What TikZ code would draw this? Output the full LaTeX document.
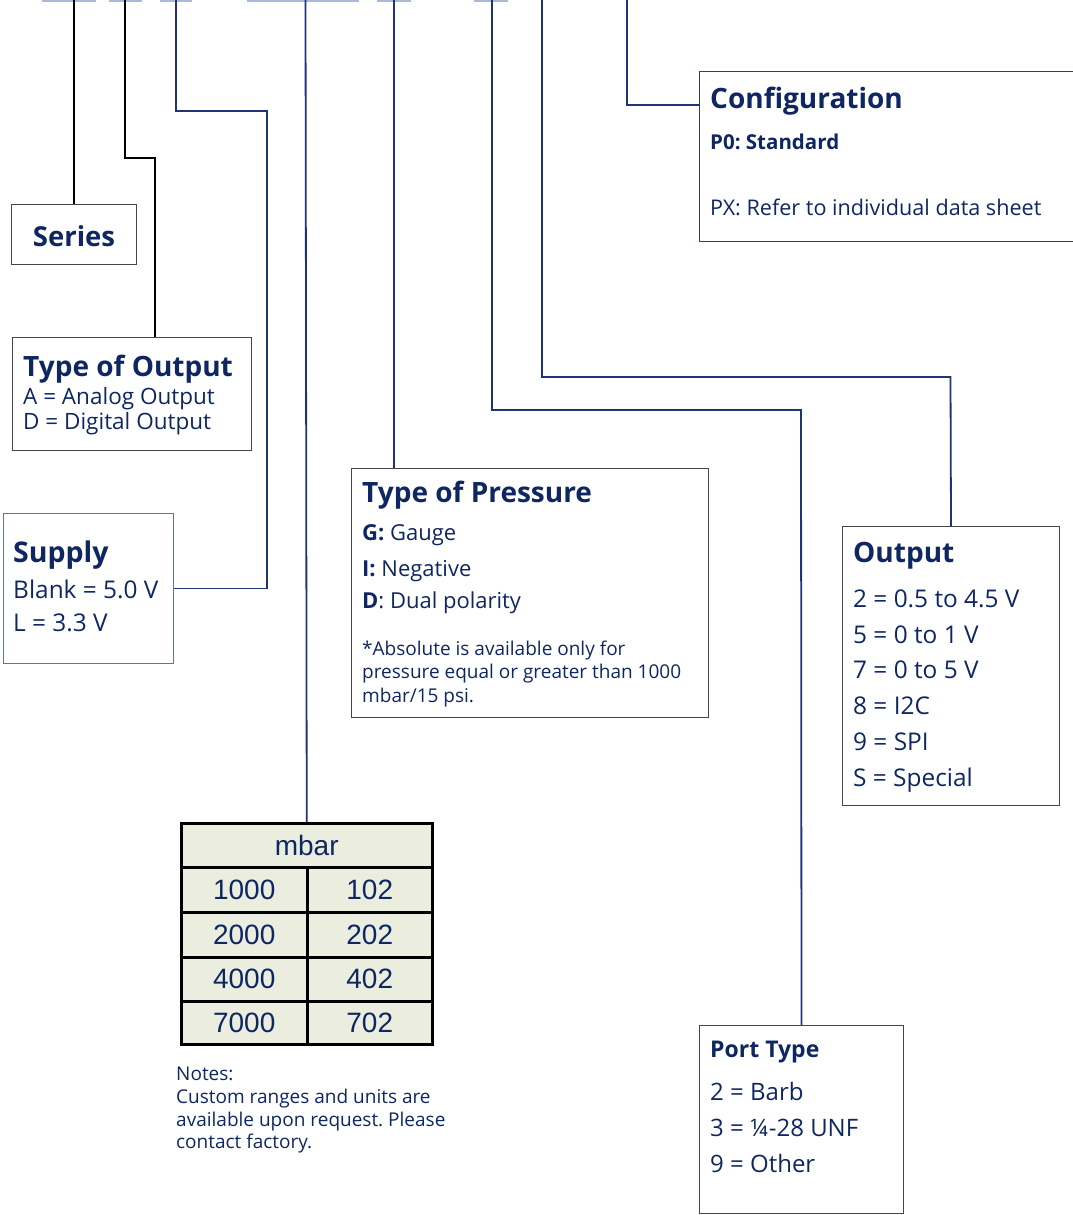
\documentclass[tikz,border=0pt]{standalone}
\usepackage{fontspec}
\setmainfont{Open Sans}
\newfontfamily\tabfont{Liberation Sans}
\frenchspacing
\definecolor{navy}{RGB}{14,38,98}
\definecolor{lnavy}{RGB}{30,52,118}
\definecolor{ulblue}{RGB}{170,185,215}
\definecolor{gborder}{RGB}{70,70,70}
\definecolor{sborder}{RGB}{95,115,165}
\definecolor{cborder}{RGB}{40,62,130}
\definecolor{tabfill}{RGB}{235,238,223}
\tikzset{
  gbox/.style={draw=gborder, line width=1pt, rectangle, inner sep=0, anchor=north west},
  bbox/.style={draw=sborder, line width=1pt, rectangle, inner sep=0, anchor=north west},
  con/.style={draw=lnavy, line width=1.8pt},
  blk/.style={draw=black, line width=1.8pt},
  ul/.style={draw=ulblue, line width=2pt},
  head/.style={text=navy, anchor=base west, inner sep=0, font=\fontsize{28}{30}\selectfont\bfseries},
  txt/.style={text=navy, anchor=base west, inner sep=0},
  cell/.style={draw=black, line width=2.5pt, fill=tabfill, rectangle, inner sep=0, anchor=north west,
    text=navy, font=\tabfont\fontsize{28}{30}\selectfont},
}
\begin{document}
\begin{tikzpicture}[x=1pt,y=-1pt]
\useasboundingbox (0,0) rectangle (1072,1215);
% top underline marks
\coordinate (u1a) at (42,0.8); \coordinate (u1b) at (96,0.8);
\coordinate (u2a) at (109,0.8); \coordinate (u2b) at (142,0.8);
\coordinate (u3a) at (160,0.8); \coordinate (u3b) at (192,0.8);
\coordinate (u4a) at (247,0.8); \coordinate (u4b) at (359,0.8);
\coordinate (u5a) at (377,0.8); \coordinate (u5b) at (411,0.8);
\coordinate (u6a) at (474,0.8); \coordinate (u6b) at (508,0.8);
\draw[ul] (u1a) -- (u1b); \draw[ul] (u2a) -- (u2b); \draw[ul] (u3a) -- (u3b);
\draw[ul] (u4a) -- (u4b); \draw[ul] (u5a) -- (u5b); \draw[ul] (u6a) -- (u6b);

% boxes
\node[gbox, minimum width=125, minimum height=60] (series) at (11,204) {};
\node[text=navy, font=\fontsize{27.5}{30}\selectfont\bfseries] (seriest) at ([yshift=-1.5]series.center) {Series};
\node[gbox, minimum width=239, minimum height=113] (tout) at (12,337) {};
\node[bbox, minimum width=170, minimum height=150] (supply) at (3,513) {};
\node[gbox, minimum width=357, minimum height=249] (press) at (351,468) {};
\node[draw=cborder, line width=1pt, rectangle, inner sep=0, anchor=north west, minimum width=380, minimum height=170] (config) at (699,71) {};
\node[gbox, minimum width=217, minimum height=279] (outb) at (842,526) {};
\node[gbox, minimum width=204, minimum height=188] (port) at (699,1025) {};

% table
\node[cell, minimum width=251, minimum height=44] (mbar) at (180,822) {mbar};
\node[cell, minimum width=126, minimum height=45] (r1a) at (180,866) {1000};
\node[cell, minimum width=125, minimum height=45] (r1b) at (306,866) {102};
\node[cell, minimum width=126, minimum height=45] (r2a) at (180,911) {2000};
\node[cell, minimum width=125, minimum height=45] (r2b) at (306,911) {202};
\node[cell, minimum width=126, minimum height=44] (r3a) at (180,956) {4000};
\node[cell, minimum width=125, minimum height=44] (r3b) at (306,956) {402};
\node[cell, minimum width=126, minimum height=43] (r4a) at (180,1000) {7000};
\node[cell, minimum width=125, minimum height=43] (r4b) at (306,1000) {702};

% texts: Type of Output
\node[head] (toutH) at (23,376) {Type of Output};
\node[txt, font=\fontsize{22.5}{24}\selectfont] (toutA) at (23,404) {A = Analog Output};
\node[txt, font=\fontsize{22.5}{24}\selectfont] (toutD) at (23,429) {D = Digital Output};
% Supply
\node[head, font=\fontsize{28.5}{30}\selectfont\bfseries] (supH) at (13,562) {Supply};
\node[txt, font=\fontsize{24.4}{26}\selectfont] (sup1) at (13,598) {Blank = 5.0 V};
\node[txt, font=\fontsize{24.4}{26}\selectfont] (sup2) at (13,631) {L = 3.3 V};
% Type of Pressure
\node[head] (prH) at (362,502) {Type of Pressure};
\node[txt, font=\fontsize{22}{24}\selectfont] (pr1) at (362,540) {\textbf{G:} Gauge};
\node[txt, font=\fontsize{22}{24}\selectfont] (pr2) at (362,576) {\textbf{I:} Negative};
\node[txt, font=\fontsize{22}{24}\selectfont] (pr3) at (362,608) {\textbf{D}: Dual polarity};
\node[txt, font=\fontsize{19}{21}\selectfont] (pr4) at (362,655) {*Absolute is available only for};
\node[txt, font=\fontsize{19}{21}\selectfont] (pr5) at (362,678) {pressure equal or greater than 1000};
\node[txt, font=\fontsize{19}{21}\selectfont] (pr6) at (362,702) {mbar/15 psi.};
% Configuration
\node[head, font=\fontsize{28}{30}\selectfont\bfseries] (cfH) at (710,108) {Configuration};
\node[txt, font=\fontsize{20.5}{22}\selectfont\bfseries] (cf1) at (710,149) {P0: Standard};
\node[txt, font=\fontsize{21.6}{23}\selectfont] (cf2) at (710,215) {PX: Refer to individual data sheet};
% Output
\node[head] (oH) at (853,562) {Output};
\node[txt, font=\fontsize{24.4}{26}\selectfont] (o1) at (853,607) {2 = 0.5 to 4.5 V};
\node[txt, font=\fontsize{24.4}{26}\selectfont] (o2) at (853,643) {5 = 0 to 1 V};
\node[txt, font=\fontsize{24.4}{26}\selectfont] (o3) at (853,678) {7 = 0 to 5 V};
\node[txt, font=\fontsize{24.4}{26}\selectfont] (o4) at (853,714) {8 = I2C};
\node[txt, font=\fontsize{24.4}{26}\selectfont] (o5) at (853,750) {9 = SPI};
\node[txt, font=\fontsize{24.4}{26}\selectfont] (o6) at (853,786) {S = Special};
% Port Type
\node[head, font=\fontsize{23}{25}\selectfont\bfseries] (pH) at (710,1057) {Port Type};
\node[txt, font=\fontsize{24}{26}\selectfont] (p1) at (710,1100) {2 = Barb};
\node[txt, font=\fontsize{24}{26}\selectfont] (p2) at (710,1136) {3 = ¼-28 UNF};
\node[txt, font=\fontsize{24}{26}\selectfont] (p3) at (710,1172) {9 = Other};
% Notes
\node[txt, font=\fontsize{19}{21}\selectfont] (n1) at (176,1080) {Notes:};
\node[txt, font=\fontsize{19}{21}\selectfont] (n2) at (176,1103) {Custom ranges and units are};
\node[txt, font=\fontsize{19}{21}\selectfont] (n3) at (176,1126) {available upon request. Please};
\node[txt, font=\fontsize{19}{21}\selectfont] (n4) at (176,1148) {contact factory.};

% connectors
\coordinate (t1) at (74,0);
\coordinate (t2) at (125,0);
\coordinate (b2) at (155,158);
\coordinate (t3) at (176,0);
\coordinate (b3) at (267,111);
\coordinate (t4) at (305.5,0);
\coordinate (t5) at (394,0);
\coordinate (t6) at (492,0);
\coordinate (b6) at (801,410);
\coordinate (t7) at (542,0);
\coordinate (b7) at (950.5,377);
\coordinate (t8) at (627,0);
\coordinate (b8) at (699,105);

\draw[blk] (t1) -- (t1 |- series.north);
\draw[blk] (t2) |- (b2) -- (b2 |- tout.north);
\draw[con] (supply.east) -| (b3) -| (t3);
\draw[con] (t4) -- (mbar.north);
\draw[con] (t5) -- (t5 |- press.north);
\draw[con] (t6) |- (b6) -- (port.north);
\draw[con] (t7) |- (b7) -- (outb.north);
\draw[con] (t8) |- (b8);
\end{tikzpicture}
\end{document}
